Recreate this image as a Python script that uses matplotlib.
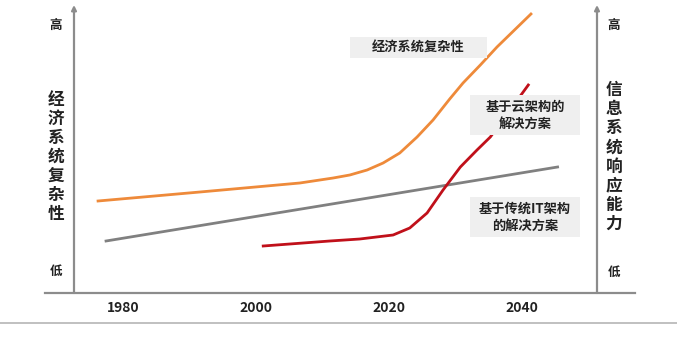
import matplotlib
matplotlib.use("Agg")
import matplotlib.pyplot as plt
from matplotlib.patches import Rectangle

plt.rcParams['font.family'] = ['Noto Sans CJK SC', 'DejaVu Sans']

# ---- data (x in years, y in relative level units) ----
years_ticks = [1980, 2000, 2020, 2040]
tick_labels = ["1980", "2000", "2020", "2040"]

econ_x = [1976.3, 1991.6, 2006.6, 2011.6, 2014.1, 2016.7, 2019.1, 2021.6, 2024.2,
          2026.6, 2029.1, 2031.1, 2033.7, 2036.2, 2041.3]
econ_y = [92, 101, 110, 115, 118, 123, 130, 140, 156, 173, 194, 210, 228, 246, 279]

it_x = [1977.5, 2045.3]
it_y = [52, 126]

cloud_x = [2001.1, 2011.1, 2015.6, 2020.6, 2023.1, 2025.7, 2028.1, 2030.7, 2033.2,
           2035.2, 2037.4, 2040.9]
cloud_y = [47, 52, 54, 58, 65, 80, 103, 126, 143, 156, 176, 208]

# ---- figure ----
W, H = 677, 338
fig = plt.figure(figsize=(W / 100, H / 100), dpi=100)
ax = fig.add_axes([0, 0, 1, 1])
x0 = 2010 - 322.5 / 6.66
x1 = 2010 + (W - 322.5) / 6.66
ax.set_xlim(x0, x1)
ax.set_ylim(-45, 293)
ax.axis('off')

def px2yr(px):
    return 2010 + (px - 322.5) / 6.66

def py2v(py):
    return 293 - py

axis_col = '#8c8c8c'
txt_col = '#222222'
# bottom axis line
ax.plot([px2yr(45), px2yr(635)], [0, 0], color=axis_col, lw=1.6, zorder=2)
# vertical axes with arrows
for px in (74, 597):
    ax.annotate('', xy=(px2yr(px), 288), xytext=(px2yr(px), 0),
                arrowprops=dict(arrowstyle='-|>', color=axis_col, lw=1.6,
                                mutation_scale=7, shrinkA=0, shrinkB=0), zorder=2)
# separator line
ax.plot([x0, x1], [-30, -30], color='#b5b5b5', lw=1.2, zorder=1)

# series
ax.plot(it_x, it_y, color='#808080', lw=2, zorder=3)
ax.plot(econ_x, econ_y, color='#ee8a3a', lw=2, zorder=3, solid_joinstyle='round')
ax.plot(cloud_x, cloud_y, color='#c0101a', lw=2, zorder=3, solid_joinstyle='round')

# tick labels
for yr, lab in zip(years_ticks, tick_labels):
    ax.text(yr, -15, lab, ha='center', va='center', fontsize=10, fontweight='bold', color=txt_col)

# annotation boxes
def label_box(l, t, r, b, text):
    ax.add_patch(Rectangle((px2yr(l), py2v(b)), px2yr(r) - px2yr(l), py2v(t) - py2v(b),
                           fc='#efefef', ec='none', zorder=4))
    ax.text((px2yr(l) + px2yr(r)) / 2, (py2v(t) + py2v(b)) / 2, text, ha='center', va='center',
            fontsize=9.5, fontweight='bold', color=txt_col, linespacing=1.3, zorder=5)

label_box(350, 37, 487, 58, "经济系统复杂性")
label_box(470, 95, 580, 135, "基于云架构的\n解决方案")
label_box(470, 197, 580, 237, "基于传统IT架构\n的解决方案")

# axis titles
lx, rx = px2yr(56), px2yr(614)
ax.text(lx, py2v(25), "高", ha='center', va='center', fontsize=9, fontweight='bold', color=txt_col)
ax.text(lx, py2v(271), "低", ha='center', va='center', fontsize=9, fontweight='bold', color=txt_col)
ax.text(lx, py2v(157), "\n".join("经济系统复杂性"), ha='center', va='center', fontsize=12,
        fontweight='bold', color=txt_col, linespacing=1.08)
ax.text(rx, py2v(25), "高", ha='center', va='center', fontsize=9, fontweight='bold', color=txt_col)
ax.text(rx, py2v(272), "低", ha='center', va='center', fontsize=9, fontweight='bold', color=txt_col)
ax.text(rx, py2v(157), "\n".join("信息系统响应能力"), ha='center', va='center', fontsize=12,
        fontweight='bold', color=txt_col, linespacing=1.08)

fig.savefig("out.png", dpi=100)
